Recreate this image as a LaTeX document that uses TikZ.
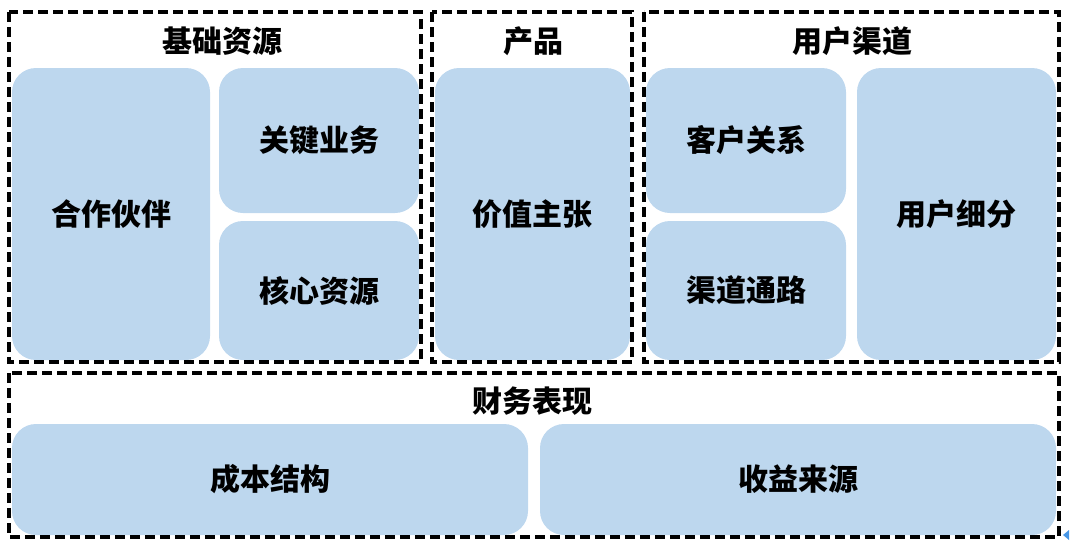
\documentclass[tikz,border=0pt]{standalone}
\usepackage{fontspec}
\newfontfamily\cjk{Noto Sans CJK SC}
\definecolor{boxblue}{RGB}{189,215,238}
\definecolor{handleblue}{RGB}{70,150,230}
\tikzset{
  bluebox/.style={draw=none, fill=boxblue, rounded corners=24pt, inner sep=0pt, font=\cjk\bfseries\fontsize{30}{34}\selectfont, text=black},
  groupbox/.style={draw=black, line width=3.4pt, dash pattern=on 10pt off 5pt, fill=none},
  titletext/.style={font=\cjk\bfseries\fontsize{30}{34}\selectfont, text=black, inner sep=0pt}
}
\newcommand{\bbox}[6]{% name, x1, y1, x2, y2, text
  \node[bluebox, minimum width={#4-#2}, minimum height={#5-#3}] (#1) at ({(#2+#4)/2},{(#3+#5)/2}) {#6};}
\begin{document}
\begin{tikzpicture}[x=1pt,y=-1pt]
\useasboundingbox (0,0) rectangle (1070,550);
% blue boxes
\bbox{hz}{12}{68}{210}{360}{合作伙伴}
\bbox{gj}{219}{68}{419}{213}{关键业务}
\bbox{hx}{219}{221}{419}{360}{核心资源}
\bbox{jz}{435}{68}{630}{360}{价值主张}
\bbox{kh}{646}{68}{846}{213}{客户关系}
\bbox{qd}{646}{221}{846}{360}{渠道通路}
\bbox{yh}{857}{68}{1056}{360}{用户细分}
\bbox{cb}{12}{424}{528}{535}{成本结构}
\bbox{sy}{540}{424}{1056}{535}{收益来源}
% group boxes
\draw[groupbox] (9,12) rectangle (421,362);
\draw[groupbox] (432,12) rectangle (632,362);
\draw[groupbox] (644,12) rectangle (1059,362);
\draw[groupbox] (9,373) rectangle (1059,537);
% titles
\node[titletext] (t1) at (222,41) {基础资源};
\node[titletext] (t2) at (533,41) {产品};
\node[titletext] (t3) at (852,41) {用户渠道};
\node[titletext] (t4) at (532,401) {财务表现};
% selection handle artifact
\fill[handleblue] (1063,535) -- (1069,530) -- (1069,540) -- cycle;
\end{tikzpicture}
\end{document}
